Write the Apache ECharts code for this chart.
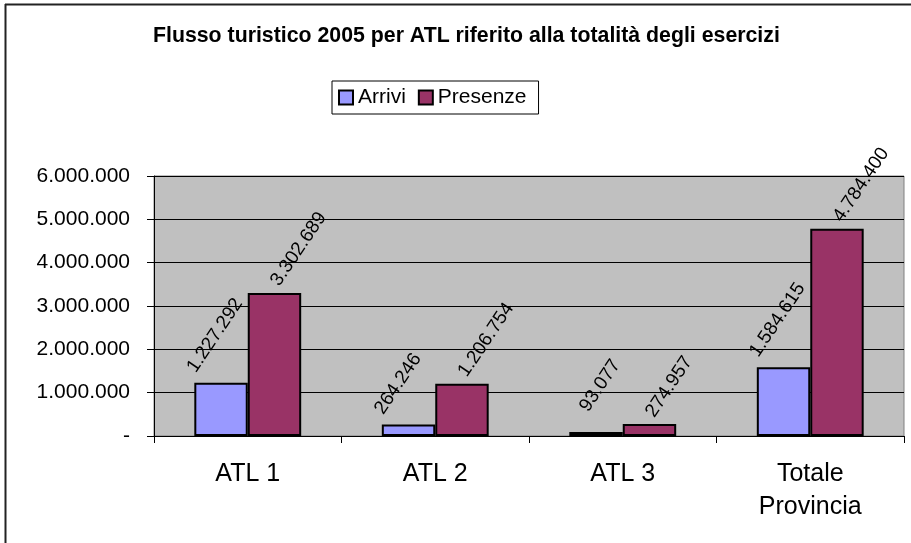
<!DOCTYPE html>
<html>
<head>
<meta charset="utf-8">
<script src="https://cdn.jsdelivr.net/npm/echarts@6/dist/echarts.min.js"></script>
<style>
  html, body { margin: 0; padding: 0; background: #fff; }
  #chart { width: 911px; height: 543px; }
</style>
</head>
<body>
<div id="chart"></div>
<script>
const categories = ["ATL 1", "ATL 2", "ATL 3", "Totale\nProvincia"];
const arrivi = [1227292, 264246, 93077, 1584615];
const presenze = [3302689, 1206754, 274957, 4784400];
const yTicks = {min: 0, max: 6000000, interval: 1000000};

const font = "'Liberation Sans', Arial, sans-serif";

// numeri all'italiana: 1.227.292
function fmt(v) {
  if (v === 0) return "-";
  return String(v).replace(/\B(?=(\d{3})+(?!\d))/g, ".");
}

// etichetta ruotata; l'offset lavora nel sistema ruotato del testo
function barLabel(offset) {
  return {
    show: true,
    position: "top",
    rotate: 56,
    align: "left",
    verticalAlign: "middle",
    distance: 8,
    offset: offset,
    fontSize: 19,
    fontFamily: font,
    color: "#000",
    formatter: p => fmt(p.value),
  };
}

// in Excel l'etichetta di ATL 3 (barra bassissima) era spostata un po'
const arriviData = arrivi.map((v, i) =>
  i === 2 ? {value: v, label: {offset: [5, -18]}} : v
);

const chart = echarts.init(document.getElementById("chart"));
chart.setOption({
  animation: false,
  backgroundColor: "#fff",
  title: {
    text: "Flusso turistico 2005 per ATL riferito alla totalità degli esercizi",
    left: 148,
    top: 21,
    textStyle: {fontFamily: font, fontSize: 21.3, fontWeight: "bold", color: "#000"},
  },
  legend: {
    data: ["Arrivi", "Presenze"],
    left: 332,
    top: 81,
    itemWidth: 14,
    itemHeight: 14,
    itemGap: 12,
    padding: [6, 12, 6, 6],
    borderColor: "#000",
    borderWidth: 1,
    icon: "rect",
    textStyle: {fontFamily: font, fontSize: 21, color: "#000"},
  },
  graphic: [
    {type: "line", shape: {x1: 5, y1: 4.5, x2: 911, y2: 4.5}, style: {stroke: "#222", lineWidth: 2}},
    {type: "line", shape: {x1: 5.5, y1: 4, x2: 5.5, y2: 543}, style: {stroke: "#222", lineWidth: 2}},
  ],
  grid: {
    left: 154,
    right: 7,
    top: 176,
    bottom: 107,
    show: true,
    backgroundColor: "#C0C0C0",
    borderColor: "#808080",
    borderWidth: 1,
  },
  xAxis: {
    type: "category",
    data: categories,
    axisLine: {lineStyle: {color: "#000", width: 1}},
    axisTick: {show: true, length: 7, lineStyle: {color: "#000"}},
    axisLabel: {
      fontFamily: font,
      fontSize: 25,
      color: "#000",
      margin: 22,
      lineHeight: 33,
      interval: 0,
    },
  },
  yAxis: {
    type: "value",
    min: yTicks.min,
    max: yTicks.max,
    interval: yTicks.interval,
    axisLine: {show: true, lineStyle: {color: "#000", width: 1}},
    axisTick: {show: true, length: 7, lineStyle: {color: "#000"}},
    splitLine: {lineStyle: {color: "#000", width: 1}},
    axisLabel: {
      fontFamily: font,
      fontSize: 21,
      color: "#000",
      margin: 24,
      formatter: fmt,
    },
  },
  series: [
    {
      name: "Arrivi",
      type: "bar",
      data: arriviData,
      barGap: "0%",
      barCategoryGap: "43%",
      itemStyle: {color: "#9999FF", borderColor: "#000", borderWidth: 2},
      label: barLabel([-13, -27]),
    },
    {
      name: "Presenze",
      type: "bar",
      data: presenze,
      itemStyle: {color: "#993366", borderColor: "#000", borderWidth: 2},
      label: barLabel([1, 0]),
    },
  ],
});
</script>
</body>
</html>
